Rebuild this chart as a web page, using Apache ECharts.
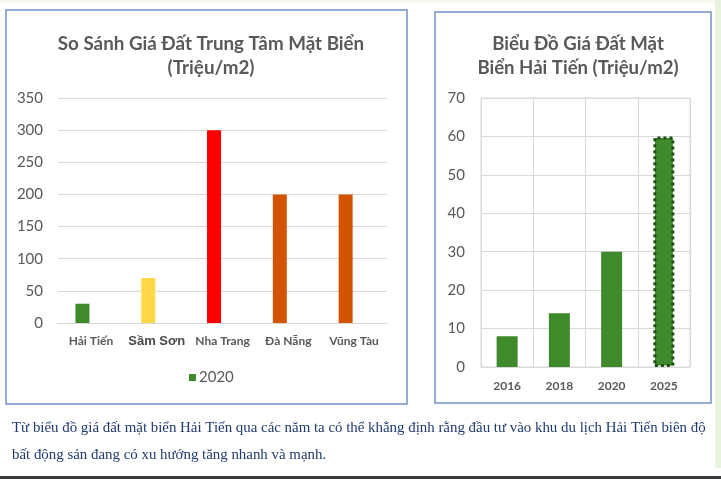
<!DOCTYPE html>
<html><head><meta charset="utf-8">
<script src="https://cdn.jsdelivr.net/npm/echarts@6/dist/echarts.min.js"></script>
<style>html,body{margin:0;padding:0;background:#fff}#c{width:721px;height:479px}</style>
</head><body><div id="c"></div>
<script>
// ---- data ----
const cityCategories = ['Hải Tiến', 'Sầm Sơn', 'Nha Trang', 'Đà Nẵng', 'Vũng Tàu'];
const cityValues2020 = [30, 70, 300, 200, 200];
const cityTicks = [0, 50, 100, 150, 200, 250, 300, 350];
const yearCategories = ['2016', '2018', '2020', '2025'];
const haiTienValues = [8, 14, 30, 60];
const yearTicks = [0, 10, 20, 30, 40, 50, 60, 70];
const legendName = '2020';
const leftTitle = 'So Sánh Giá Đất Trung Tâm Mặt Biển\n(Triệu/m2)';
const rightTitle = 'Biểu Đồ Giá Đất Mặt\nBiển Hải Tiến (Triệu/m2)';
const noteLines = [
  'Từ biểu đồ giá đất mặt biển Hải Tiến qua các năm ta có thể khẳng định rằng đầu tư vào khu du lịch Hải Tiến biên độ',
  'bất động sản đang có xu hướng tăng nhanh và mạnh.'
];

// ---- styles ----
const cityColors = ['#3f8a2b', '#ffd84a', '#ff0000', '#d35400', '#d35400'];
const green = '#3f8a2b';
const gray = '#595959';
const gridColor = '#d9d9d9';
const boxColor = '#7391c9';
const F = 'Lato, "Noto Sans", sans-serif';

const chart = echarts.init(document.getElementById('c'));
chart.setOption({
  backgroundColor: '#fff',
  animation: false,
  title: [
    { text: leftTitle, left: 206, top: 27, textAlign: 'center',
      textStyle: { fontFamily: F, fontWeight: 'bold', fontSize: 18.8, color: gray, lineHeight: 24 } },
    { text: rightTitle, left: 573, top: 27, textAlign: 'center',
      textStyle: { fontFamily: F, fontWeight: 'bold', fontSize: 18.6, color: gray, lineHeight: 24 } }
  ],
  legend: {
    data: [legendName], left: 184, top: 365, icon: 'rect', itemWidth: 7, itemHeight: 7, itemGap: 4,
    textStyle: { fontFamily: F, fontSize: 15, color: gray, padding: [0, 0, 0, -2] }
  },
  grid: [
    { left: 58, right: 334, top: 98, bottom: 156 },
    { left: 481, right: 31, top: 98, bottom: 112, show: true, borderColor: gridColor, borderWidth: 1 }
  ],
  xAxis: [
    { type: 'category', gridIndex: 0, data: cityCategories,
      axisLine: { lineStyle: { color: gridColor } }, axisTick: { show: false },
      axisLabel: { margin: 12, interval: 0,
        formatter: (v, i) => i === 1 ? '{big|' + v + '}' : '{n|' + v + '}',
        rich: {
          n: { fontFamily: F, fontWeight: 'bold', fontSize: 12, color: gray },
          big: { fontFamily: '"Liberation Sans", Arial, sans-serif', fontWeight: 'bold', fontSize: 13, color: '#4a4a4a', padding: [0, 0, 3, 0] }
        } } },
    { type: 'category', gridIndex: 1, data: yearCategories,
      axisLine: { lineStyle: { color: gridColor } }, axisTick: { show: false },
      splitLine: { show: true, lineStyle: { color: gridColor } },
      axisLabel: { margin: 13, fontFamily: F, fontWeight: 'bold', fontSize: 12, color: gray } }
  ],
  yAxis: [
    { type: 'value', gridIndex: 0, min: cityTicks[0], max: cityTicks[cityTicks.length - 1],
      interval: cityTicks[1] - cityTicks[0],
      axisLine: { show: false }, axisTick: { show: false },
      splitLine: { lineStyle: { color: gridColor } },
      axisLabel: { margin: 15, fontFamily: F, fontSize: 15, color: gray } },
    { type: 'value', gridIndex: 1, min: yearTicks[0], max: yearTicks[yearTicks.length - 1],
      interval: yearTicks[1] - yearTicks[0],
      axisLine: { show: false }, axisTick: { show: false },
      splitLine: { lineStyle: { color: gridColor } },
      axisLabel: { margin: 16, fontFamily: F, fontSize: 15, color: gray } }
  ],
  series: [
    { name: legendName, type: 'bar', xAxisIndex: 0, yAxisIndex: 0, barWidth: 14, barGap: '21%',
      itemStyle: { color: green },
      data: cityValues2020.map((v, i) => ({ value: v, itemStyle: { color: cityColors[i] } })) },
    { name: '_empty', type: 'bar', xAxisIndex: 0, yAxisIndex: 0, barWidth: 14, data: [] },
    { name: 'haitien', type: 'bar', xAxisIndex: 1, yAxisIndex: 1, barWidth: 21,
      itemStyle: { color: green },
      data: haiTienValues.map((v, i) => i === haiTienValues.length - 1
        ? { value: v, itemStyle: { color: green, borderColor: '#1f4e13', borderWidth: 3, borderType: 'dotted' } }
        : v) }
  ],
  graphic: [
    { type: 'rect', z: -1, shape: { x: 0, y: 0, width: 721, height: 3 }, style: { fill: '#fbf9ef' } },
    { type: 'rect', z: -1, shape: { x: 6, y: 10, width: 401, height: 394 }, style: { fill: 'transparent', stroke: boxColor, lineWidth: 1.5 } },
    { type: 'rect', z: -1, shape: { x: 435, y: 12, width: 276, height: 391 }, style: { fill: 'transparent', stroke: boxColor, lineWidth: 1.5 } },
    { type: 'rect', z: -1, shape: { x: 715, y: 0, width: 6, height: 468 }, style: { fill: '#e7f2df' } },
    { type: 'rect', z: -1, shape: { x: 0, y: 476, width: 721, height: 3 }, style: { fill: '#3a3a3a' } },
    { type: 'text', left: 12, top: 421, style: { text: noteLines[0], fill: '#1f3b6e', font: '14.9px "Liberation Serif", "Times New Roman", serif' } },
    { type: 'text', left: 12, top: 448, style: { text: noteLines[1], fill: '#1f3b6e', font: '14.9px "Liberation Serif", "Times New Roman", serif' } }
  ]
});
</script></body></html>
